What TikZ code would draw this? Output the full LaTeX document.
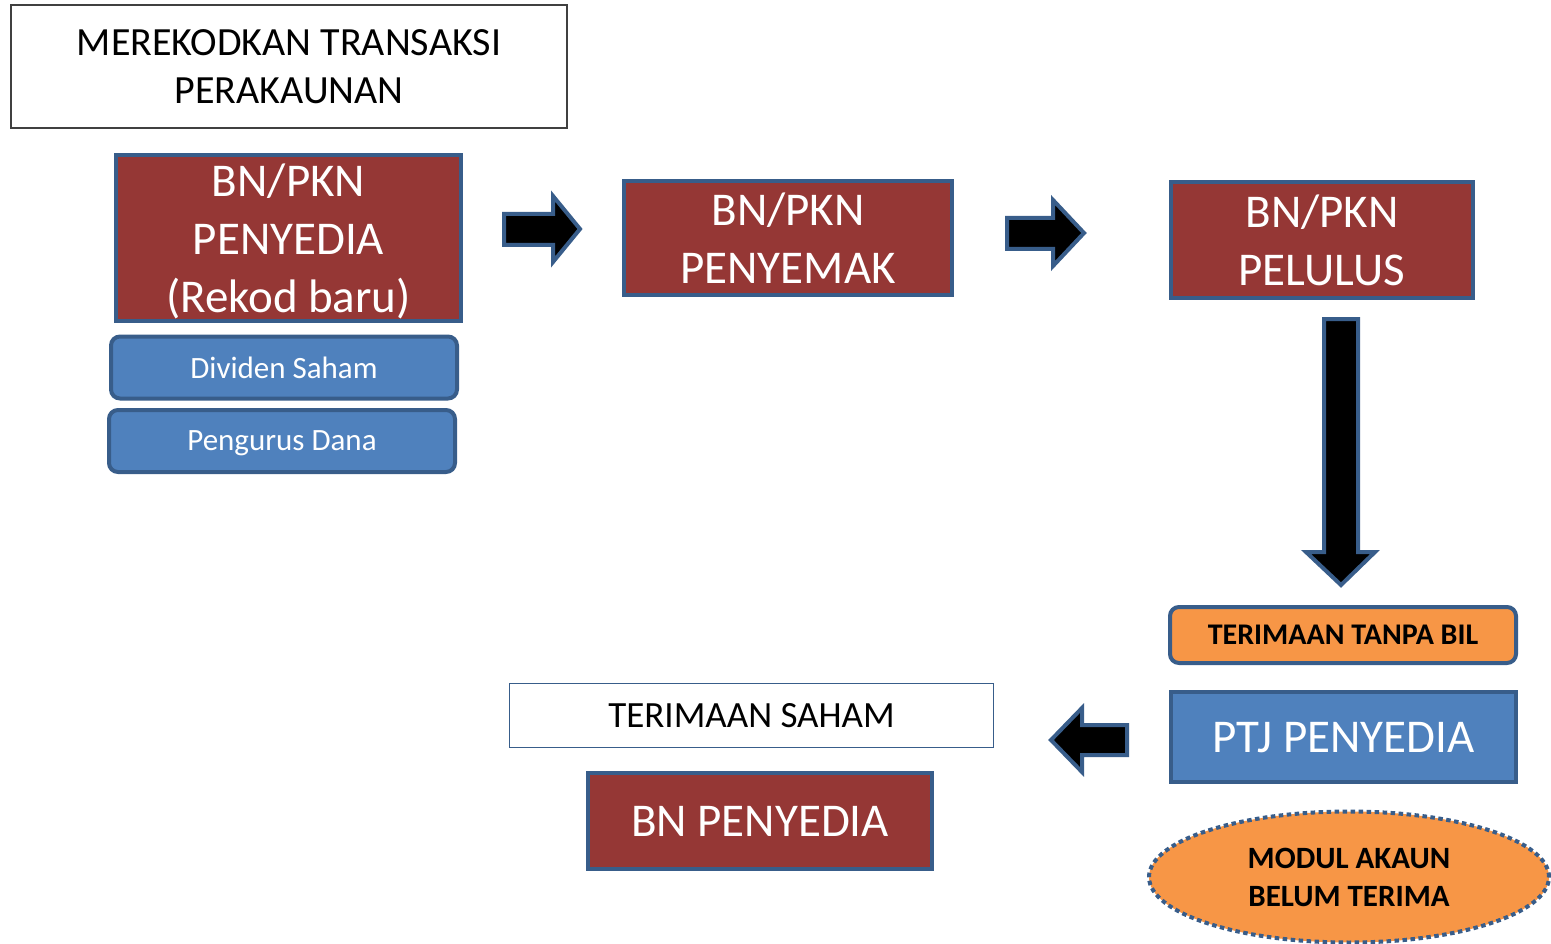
\documentclass[tikz,border=0pt]{standalone}
\usepackage{fontspec}
\setmainfont{Carlito}
\usetikzlibrary{shapes.geometric}
\definecolor{redbox}{HTML}{953735}
\definecolor{bord}{HTML}{385D8A}
\definecolor{bluebox}{HTML}{4F81BD}
\definecolor{orangebox}{HTML}{F79646}
\definecolor{titlegray}{HTML}{404040}
\tikzset{
  redstep/.style={draw=bord, line width=4pt, fill=redbox, text=white, inner sep=0pt, align=center,
    font=\fontsize{47}{58}\selectfont},
  bluetag/.style={draw=bord, line width=4pt, fill=bluebox, text=white, inner sep=0pt, rounded corners=9pt,
    text depth=0pt, font=\fontsize{31}{36}\selectfont},
  plainlabel/.style={fill=white, inner sep=0pt, align=center},
  blockarrow/.style={draw=bord, fill=black, line width=4pt, line join=miter},
}
\begin{document}
\begin{tikzpicture}[x=1pt,y=-1pt]
\useasboundingbox (0,0) rectangle (1551,944);
\fill[white] (0,0) rectangle (1551,944);

% title
\node[plainlabel, draw=titlegray, line width=1.3pt, minimum width=556pt, minimum height=123pt,
  font=\fontsize{40}{48}\selectfont, text depth=-4pt] (title) at (289,66.5) {MEREKODKAN TRANSAKSI\\PERAKAUNAN};

% first column
\node[redstep, minimum width=345pt, minimum height=166pt, text depth=0pt] (penyedia) at (288.5,238) {BN/PKN\\PENYEDIA\\(Rekod baru)};
\node[bluetag, minimum width=346pt, minimum height=62pt] (dividen) at (284,367.5) {Dividen Saham};
\node[bluetag, minimum width=346pt, minimum height=62pt, text depth=-3pt] (pengurus) at (282,441) {Pengurus Dana};

% second & third
\node[redstep, minimum width=328pt, minimum height=114pt] (penyemak) at (788,238) {BN/PKN\\PENYEMAK};
\node[redstep, minimum width=302pt, minimum height=116pt] (pelulus) at (1322,240) {BN/PKN\\PELULUS};

% right column bottom
\node[draw=bord, line width=4pt, fill=orangebox, rounded corners=9pt, inner sep=0pt,
  minimum width=346pt, minimum height=56pt, text depth=-3pt, font=\fontsize{30}{34}\selectfont\bfseries] (tanpabil) at (1343,635) {TERIMAAN TANPA BIL};
\node[draw=bord, line width=4pt, fill=bluebox, text=white, inner sep=0pt, text depth=0pt,
  minimum width=345pt, minimum height=90pt, font=\fontsize{47}{57.5}\selectfont] (ptj) at (1343.5,737) {PTJ PENYEDIA};
\node[ellipse, draw=bord, line width=4pt, dash pattern=on 4.5pt off 3.5pt, fill=orangebox, inner sep=0pt,
  minimum width=400pt, minimum height=131pt, align=center, text depth=-6pt,
  font=\fontsize{31}{38}\selectfont\bfseries] (modul) at (1349,877) {MODUL AKAUN\\BELUM TERIMA};

% bottom middle
\node[plainlabel, draw=bord, line width=1.5pt, minimum width=484pt, minimum height=64pt, text depth=0pt,
  font=\fontsize{37}{44}\selectfont] (saham) at (751.5,715.5) {TERIMAAN SAHAM};
\node[redstep, minimum width=344pt, minimum height=96pt, text depth=-3pt] (bnpenyedia) at (760,821) {BN PENYEDIA};

% block arrows
\draw[blockarrow] (504,214) -- (553,214) -- (553,196) -- (580,229) -- (553,262) -- (553,245) -- (504,245) -- cycle;
\draw[blockarrow] (1007,218) -- (1053,218) -- (1053,200) -- (1084,233) -- (1053,266) -- (1053,249) -- (1007,249) -- cycle;
\draw[blockarrow] (1324,319) -- (1358,319) -- (1358,552) -- (1375,552) -- (1341,585) -- (1306,552) -- (1324,552) -- cycle;
\draw[blockarrow] (1127,725) -- (1082,725) -- (1082,708) -- (1051,740) -- (1082,772) -- (1082,755) -- (1127,755) -- cycle;
\end{tikzpicture}
\end{document}
